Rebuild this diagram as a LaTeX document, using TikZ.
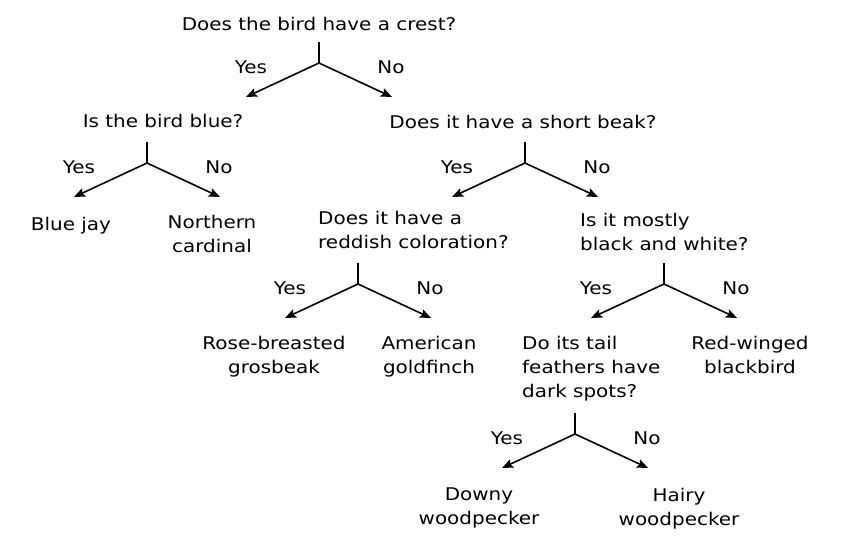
\documentclass[tikz,border=0pt]{standalone}
\usepackage{fontspec}
\setmainfont{DejaVu Sans}[FakeStretch=1.14]
\usetikzlibrary{arrows.meta}
\begin{document}
\begin{tikzpicture}[x=1pt,y=-1pt,
  txt/.style={font=\fontsize{17.5}{24}\selectfont, inner sep=0pt, anchor=base},
  ctxt/.style={txt, align=center},
  ltxt/.style={txt, align=left, anchor=base west},
  stem/.style={line width=1.6pt},
  arr/.style={line width=1.6pt, -{Stealth[length=11pt,width=9pt,inset=2pt]}}]
\useasboundingbox (0,0) rectangle (842,547);
% questions and answers (multi-line nodes: base = last line)
\node[txt] (q1) at (319,30) {Does the bird have a crest?};
\node[txt] (q2) at (163,127) {Is the bird blue?};
\node[txt] (q3) at (523,128) {Does it have a short beak?};
\node[txt] (bluejay) at (71,230) {Blue jay};
\node[ctxt] (cardinal) at (212,252) {Northern\\cardinal};
\node[ltxt] (q4) at (318,248) {Does it have a\\reddish coloration?};
\node[ltxt] (q5) at (580,250) {Is it mostly\\black and white?};
\node[ctxt] (rose) at (274,373) {Rose-breasted\\grosbeak};
\node[ctxt] (gold) at (429,373) {American\\goldfinch};
\node[ltxt] (q6) at (522,397) {Do its tail\\feathers have\\dark spots?};
\node[ctxt] (redwing) at (750,373) {Red-winged\\blackbird};
\node[ctxt] (downy) at (479,524) {Downy\\woodpecker};
\node[ctxt] (hairy) at (679,525) {Hairy\\woodpecker};
% forks
\foreach \n/\x/\y in {1/319/42, 2/147/142, 3/525/142, 4/358/263, 5/664/263, 6/575/413}{
  \coordinate (f\n t) at (\x,\y);
  \coordinate (f\n j) at (\x,\y+21);
  \coordinate (f\n l) at (\x-73,\y+55);
  \coordinate (f\n r) at (\x+73,\y+55);
  \node[txt] (yes\n) at (\x-68,\y+31) {Yes};
  \node[txt] (no\n) at (\x+72,\y+31) {No};
  \draw[stem] (f\n t) -- (f\n j);
  \draw[arr] (f\n j) -- (f\n l);
  \draw[arr] (f\n j) -- (f\n r);
}
\end{tikzpicture}
\end{document}
